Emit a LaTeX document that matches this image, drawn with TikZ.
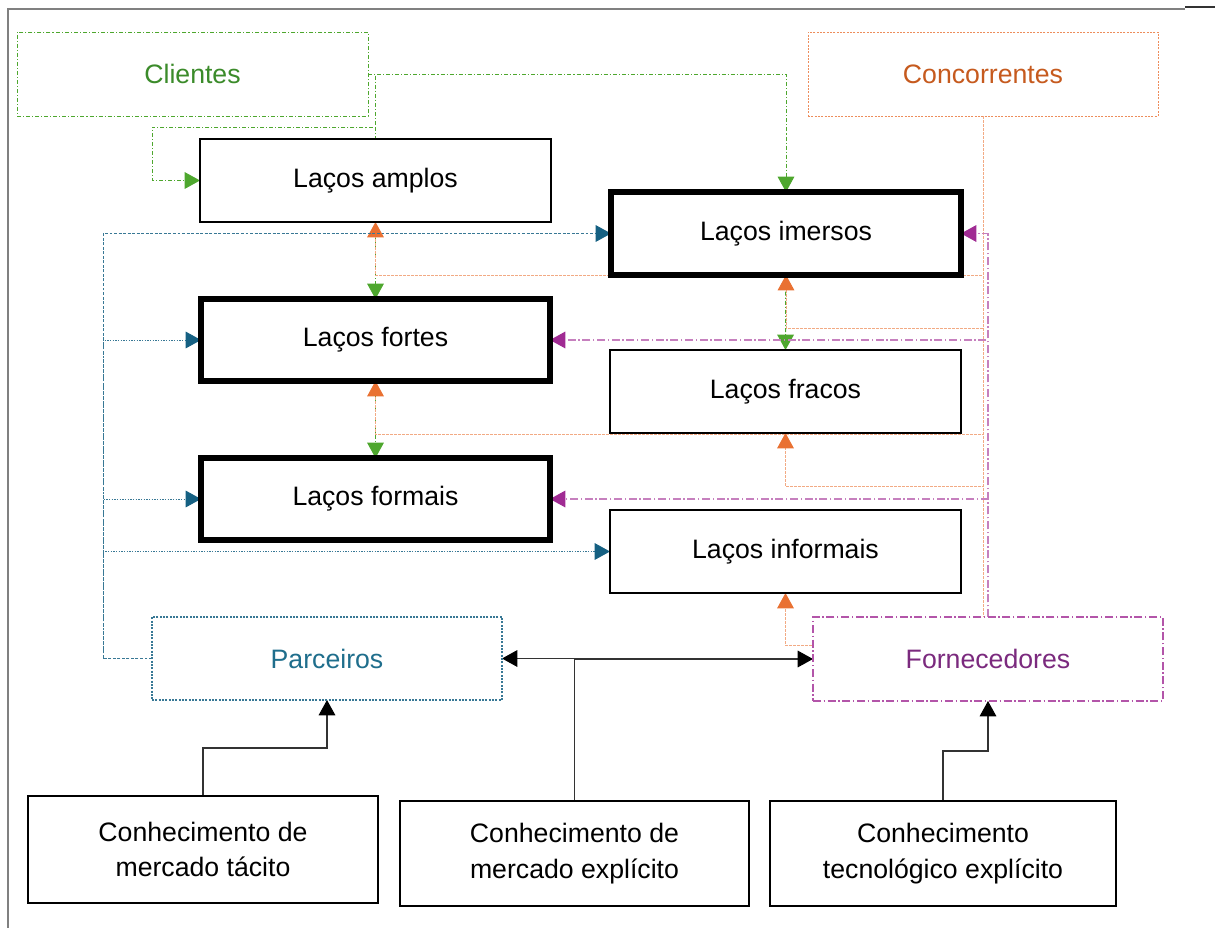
\documentclass[tikz,border=0pt]{standalone}
\usepackage{fontspec}
\setmainfont{Liberation Sans}
\usetikzlibrary{arrows.meta,backgrounds}
\definecolor{cgreen}{HTML}{4EA72E}
\definecolor{cgreentext}{HTML}{3B8B2A}
\definecolor{corange}{HTML}{E97132}
\definecolor{corangetext}{HTML}{C65A1E}
\definecolor{cblue}{HTML}{156082}
\definecolor{cbluetext}{HTML}{1F6E8C}
\definecolor{cpurple}{HTML}{A02B93}
\definecolor{cpurpletext}{HTML}{7B2A7E}
\begin{document}
\begin{tikzpicture}[x=0.75pt,y=-0.75pt,
  font=\fontsize{20}{26.5}\selectfont,
  sz/.style 2 args={minimum width=#1*0.75pt, minimum height=#2*0.75pt},
  base/.style={inner sep=0pt, outer sep=0pt, fill=white, align=center},
  plainbox/.style={base, draw=black, line width=0.9pt},
  thickbox/.style={base, draw=black, line width=4pt},
  clientesbox/.style={base, draw=cgreen, line width=0.7pt, dash pattern=on 3pt off 1.5pt on 0.8pt off 1.5pt, text=cgreentext},
  concbox/.style={base, draw=corange!80, line width=0.7pt, dash pattern=on 1.5pt off 1pt, text=corangetext},
  parcbox/.style={base, draw=cblue!85, line width=0.9pt, dash pattern=on 1.5pt off 1pt, text=cbluetext},
  fornbox/.style={base, draw=cpurple!80, line width=0.8pt, dash pattern=on 6pt off 2pt on 1pt off 2pt, text=cpurpletext},
  tip/.style={-{Triangle[length=11.5pt,width=12.5pt,color=#1]}},
  gline/.style={draw=cgreen, line width=0.7pt, dash pattern=on 3pt off 1.5pt on 0.8pt off 1.5pt, tip=cgreen},
  oline/.style={draw=corange!60, line width=0.7pt, dash pattern=on 2pt off 1pt, tip=corange},
  bline/.style={draw=cblue!85, line width=0.7pt, dash pattern=on 2.2pt off 1.2pt, tip=cblue},
  bdot/.style={bline, dash pattern=on 1pt off 1pt},
  pline/.style={draw=cpurple!60, line width=0.8pt, dash pattern=on 6pt off 2pt on 1pt off 2pt, tip=cpurple},
  kline/.style={draw=black!80, line width=0.8pt, tip=black},
  frameline/.style={draw=black!50, line width=1.2pt}
]
\useasboundingbox (0,0) rectangle (1215,928);

% nodes
\node[clientesbox, sz={351}{84}] (clientes) at (192.5,74) {Clientes};
\node[concbox, sz={350}{84}] (concorr) at (983,74) {Concorrentes};
\node[plainbox, sz={351}{83}] (amplos) at (375.5,180.5) {Laços amplos};
\node[thickbox, sz={350}{83}] (imersos) at (786,233.5) {Laços imersos};
\node[thickbox, sz={349}{82}] (fortes) at (375.5,340) {Laços fortes};
\node[plainbox, sz={351}{83}] (fracos) at (785.5,391.5) {Laços fracos};
\node[thickbox, sz={349}{82}] (formais) at (375.5,499) {Laços formais};
\node[plainbox, sz={351}{83}] (informais) at (785.5,551.5) {Laços informais};
\node[parcbox, sz={350}{83}] (parceiros) at (327,658.5) {Parceiros};
\node[fornbox, sz={350}{84}] (fornec) at (988,659) {Fornecedores};
\node[plainbox, sz={350}{107}] (k1) at (203,849.5) {Conhecimento de\\mercado tácito};
\node[plainbox, sz={349}{105}] (k2) at (574.5,853.5) {Conhecimento de\\mercado explícito};
\node[plainbox, sz={346}{105}] (k3) at (943,853.5) {Conhecimento\\tecnológico explícito};

\begin{scope}[on background layer]
  % frame
  \draw[frameline] (8,928) -- (8,9) -- (1185,9);
  \draw[draw=black!80, line width=1.2pt] (1185,7) -- (1215,7);

  % green: Clientes
  \coordinate (g1) at (152,127);
  \draw[gline] (clientes.east) -| (imersos.north);
  \draw[gline] (clientes.east) -| (amplos.north |- g1) -- (g1) |- (amplos.west);
  \draw[gline] (amplos.north |- g1) -- (fortes.north);
  \draw[gline] (amplos.north |- g1) -- (formais.north);
  \draw[gline] (imersos.north) -- (fracos.north);

  % orange: Concorrentes
  \draw[oline] (concorr.south) |- (375.5,275) -- (amplos.south);
  \draw[oline] (concorr.south) |- (786,328) -- (imersos.south);
  \draw[oline] (concorr.south) |- (375.5,434) -- (fortes.south);
  \draw[oline] (concorr.south) |- (785.5,486) -- (fracos.south);
  \draw[oline] (concorr.south) |- (785.5,645) -- (informais.south);

  % purple: Fornecedores
  \draw[pline] (fornec.north) |- (imersos.east);
  \draw[pline] (fornec.north) |- (fortes.east);
  \draw[pline] (fornec.north) |- (formais.east);

  % blue: Parceiros
  \coordinate (b1) at (103,658.5);
  \draw[bline] (parceiros.west) -- (b1) |- (imersos.west);
  \draw[bdot] (b1) |- (fortes.west);
  \draw[bdot] (b1) |- (formais.west);
  \draw[bdot] (b1) |- (informais.west);

  % black: knowledge
  \draw[kline] (k1.north) -- ++(0,-48) -| (parceiros.south);
  \draw[kline] (k2.north) |- (parceiros.east);
  \draw[kline] (k2.north) |- (fornec.west);
  \draw[kline] (k3.north) -- ++(0,-50) -| (fornec.south);
\end{scope}
\end{tikzpicture}
\end{document}
